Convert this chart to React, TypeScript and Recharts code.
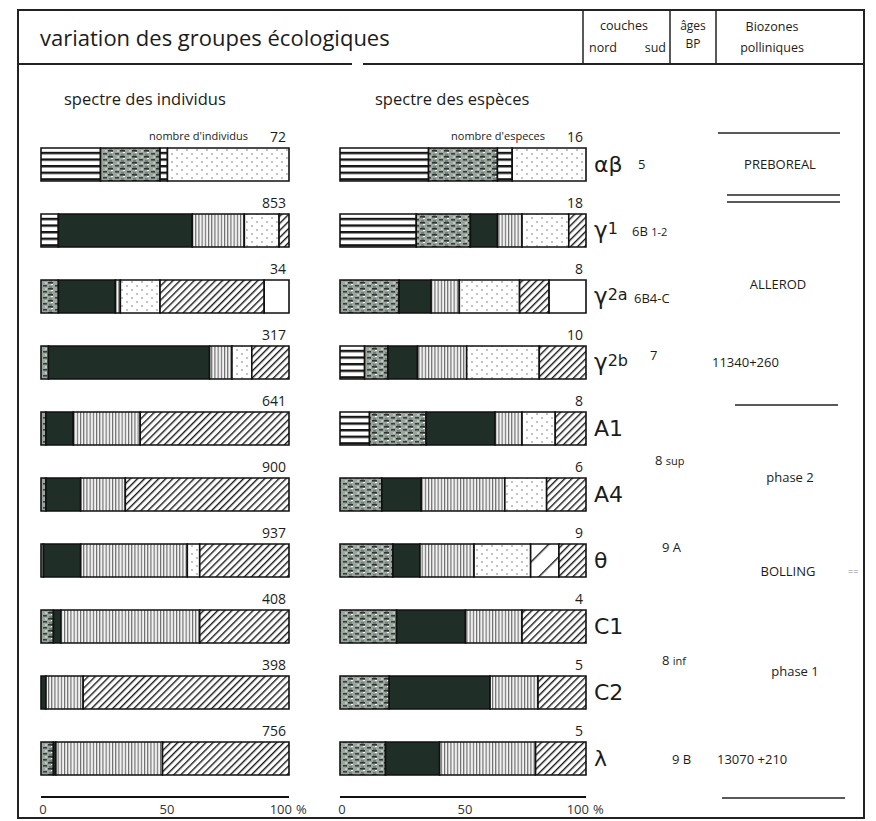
import React from 'react';
import { BarChart, Bar, XAxis, YAxis } from 'recharts';

// niveaux (lignes du diagramme)
const rows = ['αβ', 'γ1', 'γ2a', 'γ2b', 'A1', 'A4', 'θ', 'C1', 'C2', 'λ'];
const nbIndividus = [72, 853, 34, 317, 641, 900, 937, 408, 398, 756];
const nbEspeces = [16, 18, 8, 10, 8, 6, 9, 4, 5, 5];
const pctTicks = [0, 50, 100];

// spectre des individus, % par groupe
const indHz = [24, 7, 0, 0, 0, 0, 0, 0, 0, 0];
const indGr = [24, 0, 7, 3, 2, 2, 1, 5, 0, 5];
const indHz2 = [3, 0, 0, 0, 0, 0, 0, 0, 0, 0];
const indBk = [0, 54, 23, 65, 11, 14, 15, 3, 2, 1];
const indVt = [0, 21, 2, 9, 27, 18, 43, 56, 15, 43];
const indDt = [49, 14, 16, 8, 0, 0, 5, 0, 0, 0];
const indWd = [0, 0, 0, 0, 0, 0, 0, 0, 0, 0];
const indDg = [0, 4, 42, 15, 60, 66, 36, 36, 83, 51];
const indWh = [0, 0, 10, 0, 0, 0, 0, 0, 0, 0];

// spectre des espèces, % par groupe
const spHz = [36, 31, 0, 10, 12, 0, 0, 0, 0, 0];
const spGr = [28, 22, 24, 9.5, 23, 17, 21.5, 23, 20, 18.5];
const spHz2 = [6, 0, 0, 0, 0, 0, 0, 0, 0, 0];
const spBk = [0, 11, 13, 12, 28, 16, 11, 28, 41, 22];
const spVt = [0, 10, 11.5, 20, 11, 34, 22, 23, 19.5, 39];
const spDt = [30, 19, 24.5, 29.5, 13.5, 17, 23, 0, 0, 0];
const spWd = [0, 0, 0, 0, 0, 0, 11.5, 0, 0, 0];
const spDg = [0, 7, 12, 19, 12.5, 16, 11, 26, 19.5, 20.5];
const spWh = [0, 0, 15, 0, 0, 0, 0, 0, 0, 0];

const groups = [
  { key: 'hz', fill: 'url(#p-hz)' },
  { key: 'gr', fill: 'url(#p-gr)' },
  { key: 'hz2', fill: 'url(#p-hz)' },
  { key: 'bk', fill: '#1f2e26' },
  { key: 'vt', fill: 'url(#p-vt)' },
  { key: 'dt', fill: 'url(#p-dt)' },
  { key: 'wd', fill: 'url(#p-wd)' },
  { key: 'dg', fill: 'url(#p-dg)' },
  { key: 'wh', fill: '#ffffff' },
];

const individus = rows.map((row, i) => ({
  row, hz: indHz[i], gr: indGr[i], hz2: indHz2[i], bk: indBk[i], vt: indVt[i],
  dt: indDt[i], wd: indWd[i], dg: indDg[i], wh: indWh[i],
}));
const especes = rows.map((row, i) => ({
  row, hz: spHz[i], gr: spGr[i], hz2: spHz2[i], bk: spBk[i], vt: spVt[i],
  dt: spDt[i], wd: spWd[i], dg: spDg[i], wh: spWh[i],
}));

const FONT = '"Open Sans", "DejaVu Sans", sans-serif';
const INK = '#1c1c1c';

const Patterns = () => (
  <svg width={0} height={0} style={{ position: 'absolute' }}>
    <defs>
      <pattern id="p-hz" width={8} height={6.6} patternUnits="userSpaceOnUse">
        <rect width={8} height={6.6} fill="#fff" />
        <rect y={0} width={8} height={2.4} fill="#151515" />
      </pattern>
      <pattern id="p-gr" width={12} height={6} patternUnits="userSpaceOnUse">
        <rect width={12} height={6} fill="#9aa59e" />
        <rect x={0} y={0} width={5} height={1.6} fill="#2a362f" />
        <rect x={7} y={3} width={4} height={1.6} fill="#34413a" />
        <rect x={3} y={2} width={2} height={1} fill="#fff" />
        <rect x={9} y={0.5} width={2} height={1} fill="#e8ece9" />
        <rect x={1} y={4.5} width={3} height={1} fill="#4c5a52" />
      </pattern>
      <pattern id="p-vt" width={3.2} height={5} patternUnits="userSpaceOnUse">
        <rect width={3.2} height={5} fill="#f3f3f3" />
        <rect x={0} width={1.1} height={5} fill="#666" />
      </pattern>
      <pattern id="p-dt" width={10} height={8} patternUnits="userSpaceOnUse">
        <rect width={10} height={8} fill="#fff" />
        <circle cx={2} cy={2} r={0.8} fill="#777" />
        <circle cx={7} cy={6} r={0.8} fill="#777" />
      </pattern>
      <pattern id="p-dg" width={5} height={5} patternUnits="userSpaceOnUse" patternTransform="rotate(45)">
        <rect width={5} height={5} fill="#fff" />
        <rect x={0} width={1.4} height={5} fill="#1a1a1a" />
      </pattern>
      <pattern id="p-wd" width={16} height={16} patternUnits="userSpaceOnUse" patternTransform="rotate(45)">
        <rect width={16} height={16} fill="#fff" />
        <rect x={0} width={1.4} height={16} fill="#1a1a1a" />
      </pattern>
    </defs>
  </svg>
);

const PctTick = (props: any) => {
  const { x, y, payload } = props;
  const v = payload.value;
  if (v === 100) {
    return (
      <g fontFamily={FONT} fontSize={13} fill="#333">
        <text x={x + 3} y={y + 17} textAnchor="end">100</text>
        <text x={x + 7} y={y + 17}>%</text>
      </g>
    );
  }
  return <text x={x + 2} y={y + 17} textAnchor="middle" fontFamily={FONT} fontSize={13} fill="#333">{v}</text>;
};

const RowLabel = ({ x, y, label }: { x: number; y: number; label: string }) => {
  if (label.startsWith('γ')) {
    return (
      <text x={x} y={y} fontFamily='"DejaVu Sans", sans-serif' fill={INK}>
        <tspan fontSize={23}>γ</tspan>
        <tspan fontSize={16} dy={-4}>{label.slice(1)}</tspan>
      </text>
    );
  }
  return (
    <text x={x} y={y} fontFamily='"DejaVu Sans", sans-serif' fontSize={22} fill={INK}>{label}</text>
  );
};

const makeRowTick = (counts: number[], caption: string, withLabel: boolean) => (props: any) => {
  const { x, y, payload } = props;
  const i = rows.indexOf(payload.value);
  return (
    <g>
      <text x={x - 3} y={y - 22} textAnchor="end" fontFamily={FONT} fontSize={14} fill={INK}>{counts[i]}</text>
      {i === 0 && (
        <text x={x - 41} y={y - 24} textAnchor="end" fontFamily={FONT} fontSize={11} fill={INK}>{caption}</text>
      )}
      {withLabel && <RowLabel x={x + 8} y={y + 8} label={payload.value} />}
    </g>
  );
};

const Spectre = ({ data, counts, caption, withLabel, width, plotLeft, plotRight }: any) => (
  <BarChart
    width={width}
    height={821}
    data={data}
    layout="vertical"
    margin={{ top: 131, right: width - plotRight - 1, bottom: 4, left: plotLeft }}
    barCategoryGap={0}
  >
    <XAxis
      type="number"
      domain={[0, 100]}
      ticks={pctTicks}
      height={20}
      tickLine={false}
      tickSize={0}
      tickMargin={0}
      axisLine={{ stroke: '#111', strokeWidth: 2 }}
      tick={PctTick}
    />
    <YAxis
      type="category"
      dataKey="row"
      orientation="right"
      width={1}
      interval={0}
      axisLine={false}
      tickLine={false}
      tickSize={0}
      tickMargin={0}
      padding={{ top: 0, bottom: 6 }}
      tick={makeRowTick(counts, caption, withLabel)}
    />
    {groups.map((g) => (
      <Bar
        key={g.key}
        dataKey={g.key}
        stackId="s"
        fill={g.fill}
        stroke="#111"
        strokeWidth={1.6}
        barSize={33}
        isAnimationActive={false}
      />
    ))}
  </BarChart>
);

const Overlay = () => (
  <svg width={876} height={821} style={{ position: 'absolute', left: 0, top: 0, pointerEvents: 'none' }}
    fontFamily={FONT} fill={INK}>
    <rect x={18} y={10} width={846} height={808} fill="none" stroke="#222" strokeWidth={2} />
    <line x1={18} y1={64} x2={352} y2={64} stroke="#222" strokeWidth={2} />
    <line x1={363} y1={64} x2={864} y2={64} stroke="#222" strokeWidth={2} />
    <line x1={583} y1={10} x2={583} y2={64} stroke="#222" strokeWidth={1.5} />
    <line x1={670} y1={10} x2={670} y2={64} stroke="#222" strokeWidth={1.5} />
    <line x1={716} y1={10} x2={716} y2={64} stroke="#222" strokeWidth={1.5} />

    <text x={40} y={46} fontSize={22}>variation des groupes écologiques</text>
    <text x={624} y={30} fontSize={12.5} textAnchor="middle">couches</text>
    <text x={589} y={52} fontSize={12.5}>nord</text>
    <text x={666} y={52} fontSize={12.5} textAnchor="end">sud</text>
    <text x={693} y={30} fontSize={12} textAnchor="middle">âges</text>
    <text x={693} y={48} fontSize={12} textAnchor="middle">BP</text>
    <text x={772} y={31} fontSize={12.5} textAnchor="middle">Biozones</text>
    <text x={772} y={52} fontSize={12.5} textAnchor="middle">polliniques</text>

    <text x={64} y={105} fontSize={16.5}>spectre des individus</text>
    <text x={375} y={105} fontSize={16.5}>spectre des espèces</text>

    {/* couches */}
    <text x={638} y={169} fontSize={13}>5</text>
    <text x={632} y={236} fontSize={13}>6B <tspan fontSize={11}>1-2</tspan></text>
    <text x={634} y={303} fontSize={13}>6B4-C</text>
    <text x={650} y={360} fontSize={13}>7</text>
    <text x={655} y={465} fontSize={13}>8 <tspan fontSize={11}>sup</tspan></text>
    <text x={662} y={552} fontSize={13}>9 A</text>
    <text x={662} y={665} fontSize={13}>8 <tspan fontSize={11}>inf</tspan></text>
    <text x={672} y={764} fontSize={13}>9 B</text>

    {/* âges */}
    <text x={712} y={367} fontSize={13}>11340+260</text>
    <text x={717} y={764} fontSize={13}>13070 +210</text>

    {/* biozones */}
    <line x1={718} y1={133} x2={840} y2={133} stroke="#222" strokeWidth={1.5} />
    <text x={780} y={169} fontSize={13} textAnchor="middle">PREBOREAL</text>
    <line x1={727} y1={195} x2={840} y2={195} stroke="#222" strokeWidth={1.5} />
    <line x1={727} y1={202} x2={840} y2={202} stroke="#222" strokeWidth={1.5} />
    <text x={778} y={289} fontSize={13} textAnchor="middle">ALLEROD</text>
    <line x1={735} y1={405} x2={838} y2={405} stroke="#222" strokeWidth={1.5} />
    <text x={790} y={482} fontSize={13} textAnchor="middle">phase 2</text>
    <text x={788} y={576} fontSize={13} textAnchor="middle">BOLLING</text>
    <text x={848} y={575} fontSize={9} fill="#888">==</text>
    <text x={795} y={676} fontSize={13} textAnchor="middle">phase 1</text>
    <line x1={722} y1={798} x2={845} y2={798} stroke="#222" strokeWidth={1.5} />
  </svg>
);

export default function App() {
  return (
    <div style={{ position: 'absolute', left: 0, top: 0, width: 876, height: 821, background: '#fff', overflow: 'hidden' }}>
      <Patterns />
      <div style={{ position: 'absolute', left: 0, top: 0 }}>
        <Spectre data={individus} counts={nbIndividus} caption="nombre d'individus" withLabel={false}
          width={330} plotLeft={41} plotRight={289} />
      </div>
      <div style={{ position: 'absolute', left: 300, top: 0 }}>
        <Spectre data={especes} counts={nbEspeces} caption="nombre d'especes" withLabel={true}
          width={370} plotLeft={40} plotRight={286} />
      </div>
      <Overlay />
    </div>
  );
}
